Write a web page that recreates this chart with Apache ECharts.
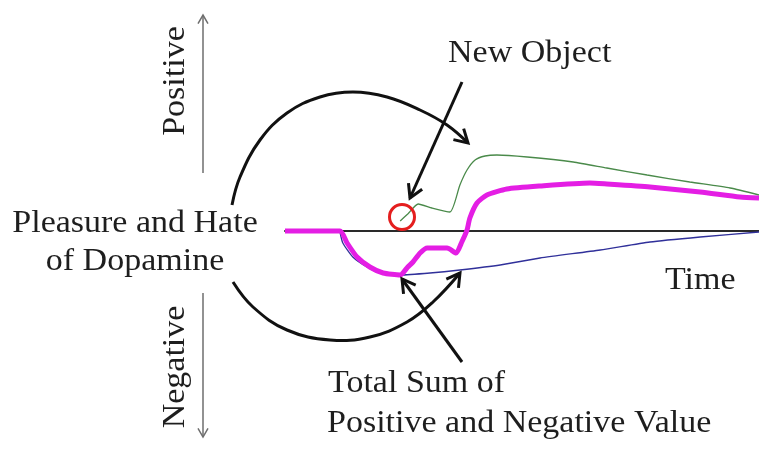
<!DOCTYPE html>
<html>
<head>
<meta charset="utf-8">
<title>Pleasure and Hate of Dopamine</title>
<script src="https://cdn.jsdelivr.net/npm/echarts@6/dist/echarts.min.js"></script>
<style>
  html, body { margin: 0; padding: 0; background: #ffffff; }
  #chart { width: 759px; height: 449px; }
</style>
</head>
<body>
<div id="chart"></div>
<script>
// Time runs 0..100 (arbitrary units); response value runs -100..100.
var positiveTime  = [24.3, 25.9, 28.1, 31.0, 34.8, 36.9, 38.4, 40.1, 42.2, 44.7, 51.1, 60.8, 67.9, 76.4, 85.4, 93.9, 100];
var positiveValue = [5, 8.5, 13.5, 11.5, 9.5, 23, 30.5, 35.5, 37.5, 38, 37, 34.5, 31.5, 28, 24.5, 21.5, 18];

var negativeTime  = [11.6, 12.2, 14.3, 17.3, 20.0, 24.3, 30.6, 36.9, 45.4, 53.8, 66.5, 77.0, 87.6, 100];
var negativeValue = [-0.5, -6, -13, -18, -21, -22, -21, -19.5, -17, -13.5, -9.5, -5.5, -3, -0.5];

var totalTime  = [0, 11.6, 13.1, 15.2, 17.9, 20.7, 24.3, 25.9, 27.0, 28.5, 30.0, 34.2, 36.1, 37.3, 38.4, 39.0, 40.5, 42.6, 46.8, 53.8, 64.3, 67.9, 77.0, 87.6, 96.0, 100];
var totalValue = [0, 0, -6, -13, -18, -21, -22, -18, -15.5, -11, -8.5, -8.5, -11, -5.5, 0.5, 6.5, 14, 18, 21, 22.5, 24, 23.5, 22, 19.5, 17, 16.5];

var labels = {
  title: 'New Object',
  left1: 'Pleasure and Hate',
  left2: 'of Dopamine',
  up: 'Positive',
  down: 'Negative',
  time: 'Time',
  sum1: 'Total Sum of',
  sum2: 'Positive and Negative Value'
};

function pairs(xs, ys) {
  return xs.map(function (x, i) { return [x, ys[i]]; });
}

var FONT = '"Liberation Serif", "DejaVu Serif", serif';
var INK = '#1e1e1e';

function textEl(str, x, y, align, rotation) {
  return {
    type: 'text',
    x: x, y: y,
    rotation: rotation || 0,
    scaleY: 0.92,
    style: {
      text: str,
      x: 0, y: 0,
      fill: INK,
      font: '34px ' + FONT,
      textAlign: align || 'left',
      textVerticalAlign: 'middle'
    },
    z: 10
  };
}

// open chevron arrowhead at tip, pointing away from 'from'
function chevron(tip, from, len, color, width) {
  var dx = tip[0] - from[0], dy = tip[1] - from[1];
  var d = Math.sqrt(dx * dx + dy * dy);
  var ux = dx / d, uy = dy / d;
  var a = Math.PI / 6;
  function rot(ang) {
    var c = Math.cos(ang), s = Math.sin(ang);
    return [tip[0] - len * (ux * c - uy * s), tip[1] - len * (ux * s + uy * c)];
  }
  return {
    type: 'polyline',
    shape: { points: [rot(a), tip, rot(-a)] },
    style: { stroke: color, lineWidth: width, fill: null, lineJoin: 'miter' },
    z: 10
  };
}

function line(p1, p2, color, width) {
  return {
    type: 'line',
    shape: { x1: p1[0], y1: p1[1], x2: p2[0], y2: p2[1] },
    style: { stroke: color, lineWidth: width },
    z: 10
  };
}

function curve(points, color, width) {
  return {
    type: 'polyline',
    shape: { points: points, smooth: 0.4 },
    style: { stroke: color, lineWidth: width, fill: null },
    z: 10
  };
}

var upperArc = [[232, 205], [240, 177], [260, 140], [287, 113], [320, 97], [353, 92], [387, 97], [420, 110], [447, 125], [468, 143]];
var lowerArc = [[233, 282], [253, 307], [287, 330], [330, 340], [370, 337], [407, 322], [433, 302], [460, 273]];

var graphics = [
  // vertical value arrow
  line([203, 15], [203, 173], '#6e6e6e', 1.5),
  chevron([203, 15], [203, 40], 10, '#6e6e6e', 1.5),
  line([203, 293], [203, 437], '#6e6e6e', 1.5),
  chevron([203, 437], [203, 410], 10, '#6e6e6e', 1.5),

  textEl(labels.up, 176, 81, 'center', Math.PI / 2),
  textEl(labels.down, 176, 367, 'center', Math.PI / 2),

  textEl(labels.left1, 135, 224, 'center'),
  textEl(labels.left2, 135, 262, 'center'),
  textEl(labels.title, 448, 54, 'left'),
  textEl(labels.time, 665, 281, 'left'),
  textEl(labels.sum1, 328, 384, 'left'),
  textEl(labels.sum2, 327, 424, 'left'),

  // swinging arcs
  curve(upperArc, '#111', 3),
  chevron([468, 143], [452, 128], 15, '#111', 3),
  curve(lowerArc, '#111', 3),
  chevron([460, 273], [447, 291], 15, '#111', 3),

  // pointer arrows
  line([462, 82], [410, 198], '#111', 3),
  chevron([410, 198], [462, 82], 15, '#111', 3),
  line([462, 362], [402, 279], '#111', 3),
  chevron([402, 279], [462, 362], 15, '#111', 3),

  // onset marker
  {
    type: 'circle',
    shape: { cx: 402, cy: 217, r: 12.5 },
    style: { stroke: '#e41e1e', lineWidth: 3, fill: null },
    z: 11
  }
];

var chart = echarts.init(document.getElementById('chart'), null, { renderer: 'canvas' });
chart.setOption({
  animation: false,
  backgroundColor: '#ffffff',
  grid: { left: 285, right: 0, top: 31, bottom: 18 },
  xAxis: {
    type: 'value', min: 0, max: 100,
    axisLine: { show: true, onZero: true, lineStyle: { color: '#2a2a2a', width: 2 } },
    axisTick: { show: false }, axisLabel: { show: false }, splitLine: { show: false }
  },
  yAxis: {
    type: 'value', min: -100, max: 100, show: false,
    splitLine: { show: false }
  },
  series: [
    {
      name: 'Positive', type: 'line', data: pairs(positiveTime, positiveValue),
      showSymbol: false, smooth: 0.2,
      lineStyle: { color: '#4a8a4a', width: 1.3 }, z: 3
    },
    {
      name: 'Negative', type: 'line', data: pairs(negativeTime, negativeValue),
      showSymbol: false, smooth: 0.2,
      lineStyle: { color: '#30309a', width: 1.3 }, z: 3
    },
    {
      name: 'Total', type: 'line', data: pairs(totalTime, totalValue),
      showSymbol: false, smooth: 0.2,
      lineStyle: { color: '#e41ee4', width: 5 }, z: 4
    }
  ],
  graphic: graphics
});
</script>
</body>
</html>
